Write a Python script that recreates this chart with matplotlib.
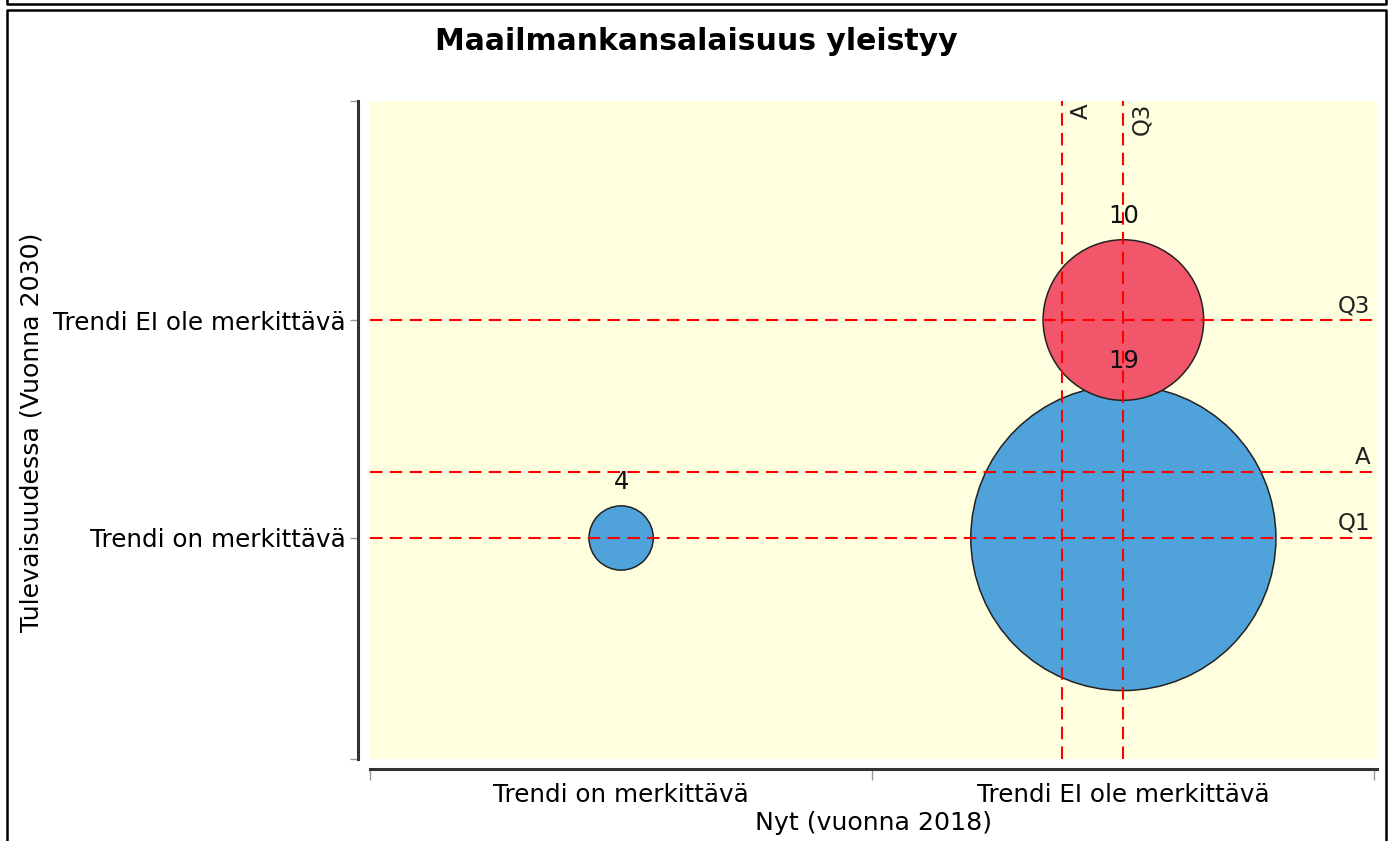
import numpy as np
import matplotlib
matplotlib.use("Agg")
import matplotlib.pyplot as plt
from matplotlib.lines import Line2D

# ---- data ----
title = "Maailmankansalaisuus yleistyy"
categories = ["Trendi on merkittävä", "Trendi EI ole merkittävä"]
x_pos = [0, 1, 1]          # Nyt (vuonna 2018) category index
y_pos = [0, 0, 1]          # Tulevaisuudessa (Vuonna 2030) category index
counts = [4, 19, 10]
colors = ["#4FA3DA", "#4FA3DA", "#F2566A"]
xlabel = "Nyt (vuonna 2018)"
ylabel = "Tulevaisuudessa (Vuonna 2030)"

# reference statistics derived from data
xs_all = np.repeat(x_pos, counts)
ys_all = np.repeat(y_pos, counts)
vlines = [("A", xs_all.mean()), ("Q3", np.percentile(xs_all, 75))]
hlines = [("Q3", np.percentile(ys_all, 75)), ("A", ys_all.mean()), ("Q1", np.percentile(ys_all, 25))]

W, H = 1394, 841
DPI = 100
fig = plt.figure(figsize=(W / DPI, H / DPI), dpi=DPI)
plt.rcParams['font.family'] = ['DejaVu Sans']

px = 72.0 / DPI  # points per pixel

left, right, top, bottom = 370, 1377, 101, 759
ax = fig.add_axes([left / W, 1 - bottom / H, (right - left) / W, (bottom - top) / H])
ax.set_facecolor("#FFFFE0")
ax.set_xlim(-0.5, 1.505)
ax.set_ylim(-1.014, 2.005)

r_scale = 8.03   # pixels of radius per count
sizes = [(2 * r_scale * c * px) ** 2 for c in counts]
ax.scatter(x_pos, y_pos, s=sizes, c=colors, edgecolors="#222222", linewidths=1.1, zorder=2)

for x, y, c in zip(x_pos, y_pos, counts):
    ax.annotate(str(c), (x, y), xytext=(0, (r_scale * c + 24) * px), textcoords="offset points",
                ha="center", va="center", fontsize=17.5, color="#111111", zorder=5)

dash_kw = dict(color="#FF0000", lw=1.5, dashes=(6, 3.5), zorder=3)
for lab, v in vlines:
    ax.axvline(v, **dash_kw)
    ax.annotate(lab, (v, 1), xycoords=("data", "axes fraction"), xytext=(7 * px, -2 * px),
                textcoords="offset points", rotation=90, ha="left", va="top",
                fontsize=16.5, color="#222222", zorder=5)
for lab, v in hlines:
    ax.axhline(v, **dash_kw)
    ax.annotate(lab, (1, v), xycoords=("axes fraction", "data"), xytext=(-7 * px, 3 * px),
                textcoords="offset points", ha="right", va="bottom",
                fontsize=16.5, color="#222222", zorder=5)

# axes styling
for s in ["top", "right"]:
    ax.spines[s].set_visible(False)
ax.spines["left"].set_position(("outward", 12 * px))
ax.spines["bottom"].set_position(("outward", 10 * px))
for s in ["left", "bottom"]:
    ax.spines[s].set_linewidth(2.2)
    ax.spines[s].set_color("#333333")

ax.set_yticks([0, 1])
ax.set_yticklabels(categories, fontsize=17.7)
ax.set_yticks([-1.014, 2.005], minor=True)
ax.tick_params(axis="y", which="both", length=6 * px * 1.4, width=1, color="#999999", pad=3)

ax.set_xticks([-0.5, 0.5, 1.5])
ax.set_xticklabels(["", "", ""])
ax.set_xticks([0, 1], minor=True)
ax.set_xticklabels(categories, minor=True, fontsize=17.7)
ax.tick_params(axis="x", which="major", length=8 * px * 1.4, width=1, color="#999999")
ax.tick_params(axis="x", which="minor", length=0, pad=10)

fig.text((left + right) / 2 / W, 1 - 823 / H, xlabel, ha="center", va="center", fontsize=18.2)
fig.text(32 / W, 1 - 432 / H, ylabel, ha="center", va="center", rotation=90, fontsize=18.2)
fig.text(696.5 / W, 1 - 42 / H, title, ha="center", va="center", fontsize=21.5, fontweight="bold")

# outer frames
def fline(xs, ys, **kw):
    fig.add_artist(Line2D([x / W for x in xs], [1 - y / H for y in ys], color="black", lw=1.8,
                          transform=fig.transFigure, **kw))

fline([7, 7, 1386, 1386], [-2, 4, 4, -2])
fline([7, 7, 1386, 1386], [843, 10, 10, 843])

fig.savefig("out.png", dpi=DPI)
